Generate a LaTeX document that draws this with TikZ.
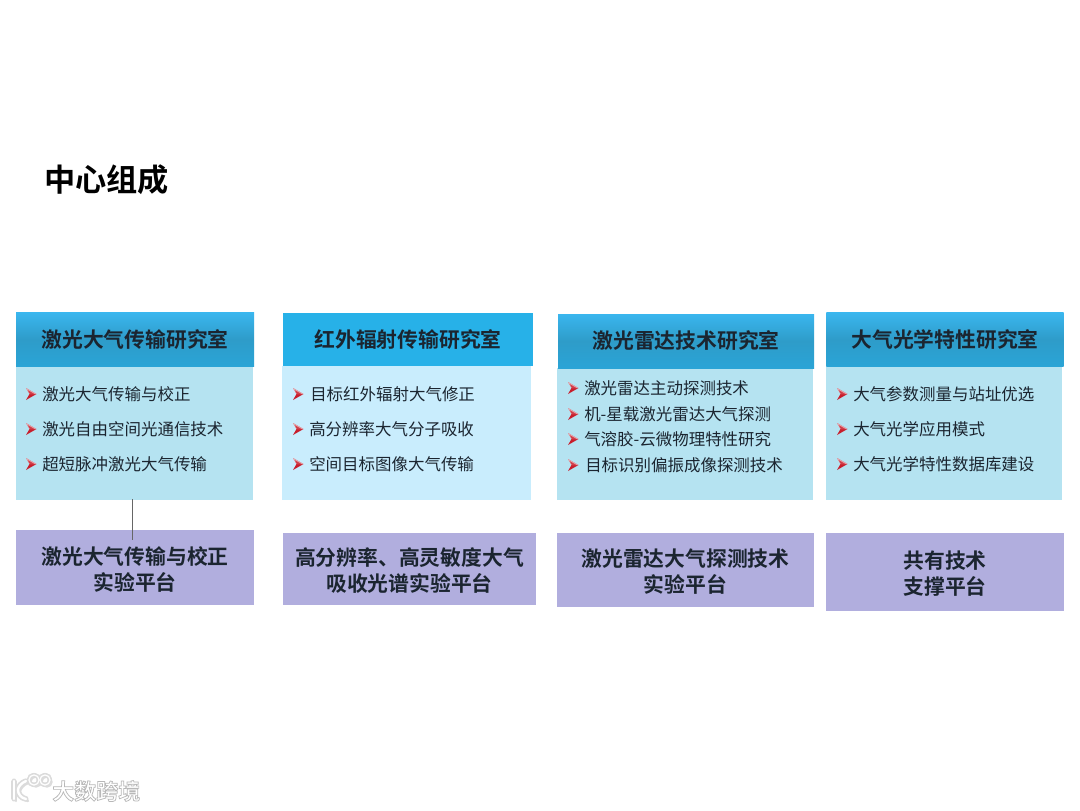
\documentclass[tikz,border=0pt]{standalone}
\usepackage{fontspec}
\setmainfont{Noto Sans CJK SC}[BoldFont={Noto Sans CJK SC Bold}]
\usetikzlibrary{calc}
\definecolor{ink}{HTML}{1B2530}
\definecolor{hdrtop}{HTML}{3AB6EE}
\definecolor{hdrmid}{HTML}{2E9CC9}
\definecolor{hdrbot}{HTML}{2AA4D6}
\definecolor{hdrflat}{HTML}{27B1E8}
\definecolor{bodyA}{HTML}{B5E3F1}
\definecolor{bodyB}{HTML}{C9EDFD}
\definecolor{plat}{HTML}{B1AEDE}
\definecolor{bulletred}{HTML}{C81E2C}
\newcommand{\pxfont}[2]{\fontsize{#1}{#2}\selectfont}
\newcommand{\platpad}{\rule{0pt}{16.2pt}}
\newcommand{\wmlogo}[1]{%
  \draw[#1,line width=1.8pt,line cap=round] (14,781) -- (14,799);
  \draw[#1,line width=1.8pt,line cap=round] (26,781) .. controls (21,783) and (18,787) .. (18,790) .. controls (18,794) and (21,798) .. (26,799);
  \draw[#1,line width=0.9pt] (34,780) circle[radius=3.8pt];
  \draw[#1,line width=0.9pt] (45,780) circle[radius=3.8pt];
}
\tikzset{
  x=0.75pt,y=-0.75pt,
  boxbase/.style={rectangle,inner sep=0pt,outer sep=0pt,align=center,text=ink},
  hdrbox/.style={boxbase,top color=hdrtop,bottom color=hdrbot,middle color=hdrmid,font=\pxfont{15.6pt}{20pt}\bfseries},
  hdrplain/.style={boxbase,fill=hdrflat,font=\pxfont{15.6pt}{20pt}\bfseries},
  bodybox/.style={boxbase,fill=bodyA},
  bodyboxB/.style={boxbase,fill=bodyB},
  platbox/.style={boxbase,fill=plat,font=\pxfont{15.6pt}{19.6pt}\bfseries},
  item/.style={anchor=west,inner sep=0pt,text=ink,font=\pxfont{12.35pt}{15pt}},
  titletext/.style={anchor=west,inner sep=0pt,text=black,font=\pxfont{23.4pt}{28pt}\bfseries},
  linkline/.style={draw=black!60,line width=0.7pt},
  bullet/.pic={
    \fill[bulletred] (-5,-6) -- (5.5,0) -- (-5,6) -- (-1.5,0) -- cycle;
    \fill[white,opacity=.6] (-5,-6) -- (5.5,0) -- (-1.5,0) -- cycle;
    \fill[bulletred,opacity=.75] (-3.2,-3.8) -- (3.5,0) -- (-1.2,0) -- cycle;
  },
  wmtext/.style={inner sep=0pt,anchor=west,text=white,font=\pxfont{16.5pt}{20pt}\bfseries},
}
\begin{document}
\begin{tikzpicture}
\useasboundingbox (0,0) rectangle (1080,810);
\fill[white] (0,0) rectangle (1080,810);

\node[titletext] (title) at (44,180) {中心组成};

% column 1
\node[bodybox,minimum width=178pt,minimum height=100.5pt] (bodyone) at (134.5,433) {};
\node[hdrbox,minimum width=178.5pt,minimum height=40pt] (hdrone) at (135,339.5) {激光大气传输研究室};
\node[platbox,minimum width=178.5pt,minimum height=56.25pt,text width=176pt] (platone) at (135,567.5) {\platpad 激光大气传输与校正\\实验平台};
\coordinate (linktop) at (132.5,499);
\coordinate (linkbot) at (132.5,540);
\draw[linkline] (linktop) -- (linkbot);
\node[item] (a1) at (42,394) {激光大气传输与校正};
\node[item] (a2) at (42,429) {激光自由空间光通信技术};
\node[item] (a3) at (42,464) {超短脉冲激光大气传输};
\pic at (31,394) {bullet};
\pic at (31,429) {bullet};
\pic at (31,464) {bullet};

% column 2
\node[bodyboxB,minimum width=187pt,minimum height=100.5pt] (bodytwo) at (406.5,433) {};
\node[hdrplain,minimum width=187.5pt,minimum height=40pt] (hdrtwo) at (408,339.5) {红外辐射传输研究室};
\node[platbox,minimum width=190pt,minimum height=54pt,text width=188pt] (plattwo) at (409.5,569) {\platpad 高分辨率、高灵敏度大气\\吸收光谱实验平台};
\node[item] (b1) at (310,394) {目标红外辐射大气修正};
\node[item] (b2) at (309,429) {高分辨率大气分子吸收};
\node[item] (b3) at (309,464) {空间目标图像大气传输};
\pic at (298,394) {bullet};
\pic at (298,429) {bullet};
\pic at (298,464) {bullet};

% column 3
\node[bodybox,minimum width=192pt,minimum height=99pt] (bodythree) at (685,434) {};
\node[hdrbox,minimum width=192pt,minimum height=40.5pt] (hdrthree) at (686,341) {激光雷达技术研究室};
\node[platbox,minimum width=193pt,minimum height=55.5pt,text width=190pt] (platthree) at (685.5,570) {\platpad 激光雷达大气探测技术\\实验平台};
\node[item] (c1) at (584,388) {激光雷达主动探测技术};
\node[item] (c2) at (584,414) {机-星载激光雷达大气探测};
\node[item] (c3) at (584,439) {气溶胶-云微物理特性研究};
\node[item] (c4) at (585,465) {目标识别偏振成像探测技术};
\pic at (573,388) {bullet};
\pic at (573,414) {bullet};
\pic at (573,439) {bullet};
\pic at (573,465) {bullet};

% column 4
\node[bodybox,minimum width=177pt,minimum height=100.5pt] (bodyfour) at (944,433) {};
\node[hdrbox,minimum width=178pt,minimum height=40pt] (hdrfour) at (945,339.5) {大气光学特性研究室};
\node[platbox,minimum width=178.5pt,minimum height=58.5pt,text width=176pt] (platfour) at (945,572) {\platpad 共有技术\\支撑平台};
\node[item] (d1) at (853,394) {大气参数测量与站址优选};
\node[item] (d2) at (853,429) {大气光学应用模式};
\node[item] (d3) at (853,464) {大气光学特性数据库建设};
\pic at (842,394) {bullet};
\pic at (842,429) {bullet};
\pic at (842,464) {bullet};

% watermark
\foreach \dx/\dy in {-1.5/0,1.5/0,0/-1.5,0/1.5,1.2/1.2,-1.2/1.2,1.2/-1.2,-1.2/-1.2,2/2}{
  \begin{scope}[shift={(\dx,\dy)}]
    \wmlogo{black!14}
  \end{scope}
}
\wmlogo{white}
\node[wmtext] (wm) at (52,791) {\special{pdf:code q 2 Tr 0.72 G 1 1 1 rg 0.55 w}大数跨境\special{pdf:code 0 Tr Q}};
\end{tikzpicture}
\end{document}
